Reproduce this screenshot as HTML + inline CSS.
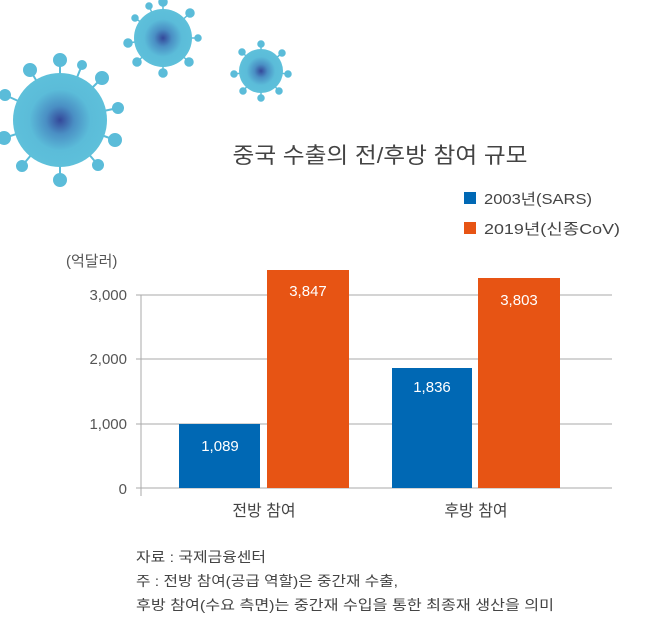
<!DOCTYPE html><html><head><meta charset="utf-8"><style>
body{margin:0;width:650px;height:627px;background:#fff;overflow:hidden;font-family:"Liberation Sans","Noto Sans CJK KR",sans-serif;}
</style></head><body>
<svg width="650" height="627" xmlns="http://www.w3.org/2000/svg" style="position:absolute;left:0;top:0">
<defs><radialGradient id="g"><stop offset="0" stop-color="#34489a"/><stop offset="0.3" stop-color="#4a8fc4"/><stop offset="0.65" stop-color="#5bbcd9"/><stop offset="1" stop-color="#5ec0da"/></radialGradient></defs>
<g transform="translate(60,120)">
<g stroke="#5bbcd9" stroke-width="2" fill="#5bbcd9">
<line x1="0" y1="0" x2="0" y2="-60"/><circle cx="0" cy="-60" r="6"/>
<line x1="0" y1="0" x2="42" y2="-42"/><circle cx="42" cy="-42" r="6"/>
<line x1="0" y1="0" x2="58" y2="-12"/><circle cx="58" cy="-12" r="5"/>
<line x1="0" y1="0" x2="55" y2="20"/><circle cx="55" cy="20" r="6"/>
<line x1="0" y1="0" x2="38" y2="45"/><circle cx="38" cy="45" r="5"/>
<line x1="0" y1="0" x2="0" y2="60"/><circle cx="0" cy="60" r="6"/>
<line x1="0" y1="0" x2="-38" y2="46"/><circle cx="-38" cy="46" r="5"/>
<line x1="0" y1="0" x2="-56" y2="18"/><circle cx="-56" cy="18" r="6"/>
<line x1="0" y1="0" x2="-55" y2="-25"/><circle cx="-55" cy="-25" r="5"/>
<line x1="0" y1="0" x2="-30" y2="-50"/><circle cx="-30" cy="-50" r="6"/>
<line x1="0" y1="0" x2="22" y2="-55"/><circle cx="22" cy="-55" r="4"/>
</g><circle r="47" fill="url(#g)"/></g>
<g transform="translate(163,38)">
<g stroke="#5bbcd9" stroke-width="1.5" fill="#5bbcd9">
<line x2="0" y2="-36"/><circle cy="-36" r="4"/><line x2="27" y2="-25"/><circle cx="27" cy="-25" r="4"/>
<line x2="35" y2="0"/><circle cx="35" r="3"/><line x2="26" y2="24"/><circle cx="26" cy="24" r="4"/>
<line x2="0" y2="35"/><circle cy="35" r="4"/><line x2="-26" y2="24"/><circle cx="-26" cy="24" r="4"/>
<line x2="-35" y2="5"/><circle cx="-35" cy="5" r="4"/><line x2="-28" y2="-20"/><circle cx="-28" cy="-20" r="3"/>
<line x2="-14" y2="-32"/><circle cx="-14" cy="-32" r="3"/></g>
<circle r="29" fill="url(#g)"/></g>
<g transform="translate(261,71)">
<g stroke="#5bbcd9" stroke-width="1.5" fill="#5bbcd9">
<line x2="0" y2="-27"/><circle cy="-27" r="3"/><line x2="21" y2="-18"/><circle cx="21" cy="-18" r="3"/>
<line x2="27" y2="3"/><circle cx="27" cy="3" r="3"/><line x2="18" y2="20"/><circle cx="18" cy="20" r="3"/>
<line x2="0" y2="27"/><circle cy="27" r="3"/><line x2="-18" y2="20"/><circle cx="-18" cy="20" r="3"/>
<line x2="-27" y2="3"/><circle cx="-27" cy="3" r="3"/><line x2="-19" y2="-19"/><circle cx="-19" cy="-19" r="3"/></g>
<circle r="22" fill="url(#g)"/></g>
<text x="380" y="163" font-size="22" fill="#444" text-anchor="middle" textLength="295" lengthAdjust="spacingAndGlyphs">중국 수출의 전/후방 참여 규모</text>
<rect x="464" y="192" width="12" height="12" fill="#0068b4"/>
<text x="484" y="204" font-size="15" fill="#444" textLength="108" lengthAdjust="spacingAndGlyphs">2003년(SARS)</text>
<rect x="464" y="222" width="12" height="12" fill="#e75414"/>
<text x="484" y="234" font-size="15" fill="#444" textLength="136" lengthAdjust="spacingAndGlyphs">2019년(신종CoV)</text>
<text x="66" y="266" font-size="15" fill="#555">(억달러)</text>
<g stroke="#aaa" stroke-width="1">
<line x1="136" y1="295" x2="612" y2="295"/><line x1="136" y1="359" x2="612" y2="359"/>
<line x1="136" y1="424" x2="612" y2="424"/><line x1="136" y1="488" x2="612" y2="488"/>
<line x1="141" y1="295" x2="141" y2="496"/></g>
<g font-size="15" fill="#555" text-anchor="end">
<text x="127" y="300">3,000</text><text x="127" y="364">2,000</text><text x="127" y="429">1,000</text><text x="127" y="494">0</text></g>
<rect x="179" y="424" width="81" height="64" fill="#0068b4"/>
<rect x="267" y="270" width="82" height="218" fill="#e75414"/>
<rect x="392" y="368" width="80" height="120" fill="#0068b4"/>
<rect x="478" y="278" width="82" height="210" fill="#e75414"/>
<g font-size="15" fill="#fff" text-anchor="middle">
<text x="220" y="451">1,089</text><text x="308" y="296">3,847</text>
<text x="432" y="392">1,836</text><text x="519" y="305">3,803</text></g>
<g font-size="16" fill="#444" text-anchor="middle"><text x="264" y="516">전방 참여</text><text x="476" y="516">후방 참여</text></g>
<g font-size="14" fill="#444"><text x="136" y="562" textLength="130" lengthAdjust="spacingAndGlyphs">자료 : 국제금융센터</text>
<text x="136" y="586" textLength="262" lengthAdjust="spacingAndGlyphs">주 : 전방 참여(공급 역할)은 중간재 수출,</text>
<text x="136" y="610" textLength="418" lengthAdjust="spacingAndGlyphs">후방 참여(수요 측면)는 중간재 수입을 통한 최종재 생산을 의미</text></g>
</svg></body></html>
